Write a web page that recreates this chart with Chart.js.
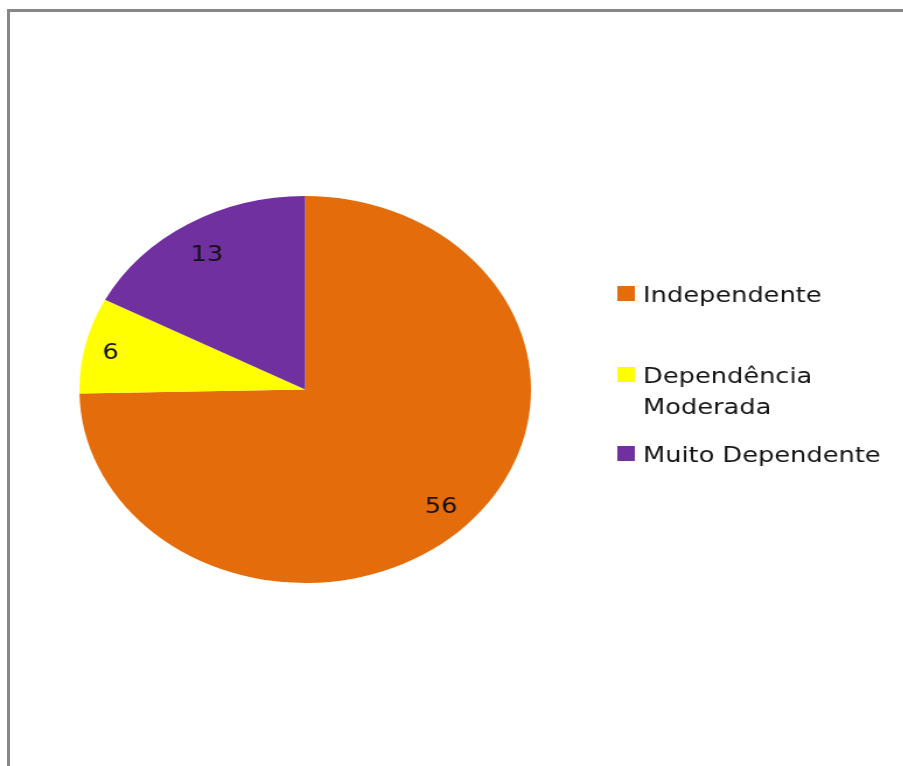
<!DOCTYPE html>
<html>
<head>
<meta charset="utf-8">
<script src="https://cdn.jsdelivr.net/npm/chart.js@4.4.1/dist/chart.umd.min.js"></script>
<style>
    html, body { margin: 0; padding: 0; background: #fff; overflow: hidden; }
    #frame {
        position: absolute; left: 7px; top: 9px; width: 1000px; height: 1000px;
        border-left: 3px solid #878787; border-top: 3px solid #878787;
        pointer-events: none;
    }
    #pieChart { position: absolute; left: 0; top: 0; transform: scaleX(1.167); transform-origin: 0 0; }
</style>
</head>
<body>
<canvas id="pieChart" width="774" height="766"></canvas>
<div id="frame"></div>
<script>
const categories = ['Independente', 'Dependência Moderada', 'Muito Dependente'];
const values = [56, 6, 13];
const colors = ['#E46C0A', '#FFFF00', '#7030A0'];

const FONT = '22px "DejaVu Sans"';

// value labels inside the slices
const sliceLabels = {
    id: 'sliceLabels',
    afterDatasetsDraw(chart) {
        const ctx = chart.ctx;
        const fracs = [0.85, 0.88, 0.83];
        ctx.save();
        ctx.font = FONT;
        ctx.fillStyle = '#111';
        ctx.textAlign = 'center';
        ctx.textBaseline = 'middle';
        chart.getDatasetMeta(0).data.forEach((arc, i) => {
            const p = arc.getProps(['x', 'y', 'startAngle', 'endAngle', 'outerRadius'], true);
            const mid = (p.startAngle + p.endAngle) / 2;
            const r = p.outerRadius * fracs[i];
            ctx.fillText(String(values[i]), p.x + Math.cos(mid) * r - 1, p.y + Math.sin(mid) * r + 3);
        });
        ctx.restore();
    }
};

// legend at the right, with word wrap
const sideLegend = {
    id: 'sideLegend',
    afterDraw(chart) {
        const ctx = chart.ctx;
        const boxX = 529, textX = 551, maxW = 218, lineH = 31;
        const firstBaselines = [302, 383, 462];
        ctx.save();
        ctx.font = FONT;
        ctx.textBaseline = 'alphabetic';
        ctx.textAlign = 'left';
        categories.forEach((label, i) => {
            const words = label.split(' ');
            const lines = [];
            let cur = '';
            words.forEach(w => {
                const test = cur ? cur + ' ' + w : w;
                if (cur && ctx.measureText(test).width > maxW) {
                    lines.push(cur);
                    cur = w;
                } else {
                    cur = test;
                }
            });
            lines.push(cur);
            const y0 = firstBaselines[i];
            ctx.fillStyle = colors[i];
            ctx.fillRect(boxX, y0 - 16, 15, 15);
            ctx.fillStyle = '#141414';
            lines.forEach((ln, j) => ctx.fillText(ln, textX, y0 + j * lineH));
        });
        ctx.restore();
    }
};

new Chart(document.getElementById('pieChart'), {
    type: 'pie',
    data: {
        labels: categories,
        datasets: [{
            data: values,
            backgroundColor: colors,
            borderWidth: 0
        }]
    },
    options: {
        responsive: false,
        devicePixelRatio: 1,
        animation: false,
        layout: { padding: { left: 68, right: 319, top: 196, bottom: 183 } },
        plugins: {
            legend: { display: false },
            tooltip: { enabled: false }
        }
    },
    plugins: [sliceLabels, sideLegend]
});
</script>
</body>
</html>
